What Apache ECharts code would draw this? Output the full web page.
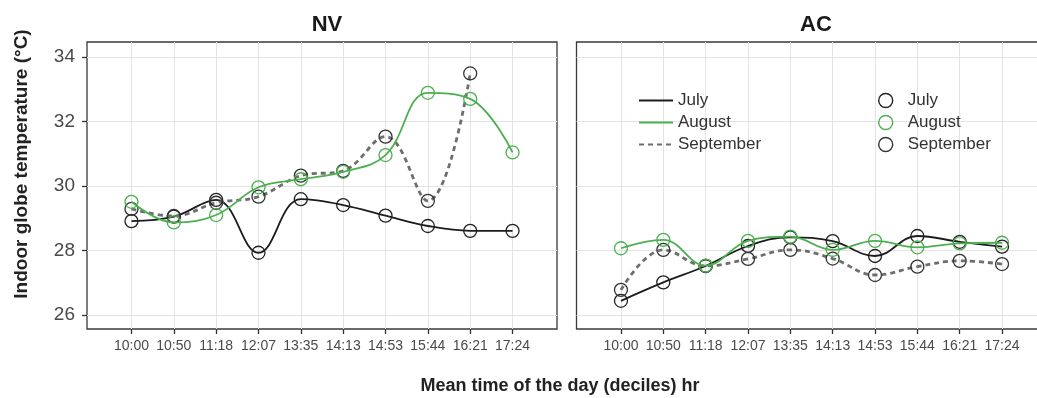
<!DOCTYPE html>
<html>
<head>
<meta charset="utf-8">
<script src="https://cdn.jsdelivr.net/npm/echarts@6/dist/echarts.min.js"></script>
<style>
  html, body { margin: 0; padding: 0; background: #fff; overflow: hidden; }
  #chart { width: 1060px; height: 398px; }
</style>
</head>
<body>
<div id="chart"></div>
<script>
// ---- Data ----
const categories = ['10:00', '10:50', '11:18', '12:07', '13:35', '14:13', '14:53', '15:44', '16:21', '17:24'];
const yTicks = [26, 28, 30, 32, 34];
const months = ['July', 'August', 'September'];

// NV panel
const nvJuly      = [28.91, 29.05, 29.57, 27.93, 29.59, 29.41, 29.08, 28.76, 28.61, 28.61];
const nvAugust    = [29.51, 28.87, 29.10, 29.96, 30.21, 30.44, 30.96, 32.89, 32.70, 31.04];
const nvSeptember = [29.29, 29.07, 29.48, 29.67, 30.32, 30.47, 31.53, 29.54, 33.49, null];

// AC panel
const acJuly      = [26.44, 27.01, 27.52, 28.14, 28.41, 28.29, 27.83, 28.45, 28.27, 28.12];
const acAugust    = [28.07, 28.33, 27.53, 28.30, 28.43, 28.02, 28.30, 28.10, 28.22, 28.24];
const acSeptember = [26.78, 28.02, 27.52, 27.74, 28.02, 27.75, 27.24, 27.50, 27.68, 27.58];

// ---- Styles ----
const lineColors = { July: '#1c1c1c', August: '#4caf50', September: '#6e6e6e' };
const markColors = { July: '#222222', August: '#4caf50', September: '#333333' };
const lineWidths = { July: 1.8, August: 1.8, September: 2.8 };
const lineTypes  = { July: 'solid', August: 'solid', September: [5, 4] };

const tickIdx = categories.map((_, i) => i);
const gridColor = '#e3e3e3';
const frameColor = '#3a3a3a';
const FONT = '"Liberation Sans", Arial, sans-serif';

function toPairs(arr) {
  const out = [];
  arr.forEach((v, i) => { if (v !== null && v !== undefined) out.push([i, v]); });
  return out;
}

function makeSeries(name, values, idx) {
  return {
    name: name,
    type: 'line',
    xAxisIndex: idx,
    yAxisIndex: idx,
    data: toPairs(values),
    smooth: 0.4,
    symbol: 'circle',
    symbolSize: 13,
    lineStyle: { color: lineColors[name], width: lineWidths[name], type: lineTypes[name] },
    itemStyle: { color: 'rgba(0,0,0,0)', borderColor: markColors[name], borderWidth: 1.3 },
    emphasis: { disabled: true },
    z: name === 'August' ? 3 : 2
  };
}

function xAxis(idx) {
  return {
    type: 'value',
    gridIndex: idx,
    min: -1.05,
    max: 10.05,
    axisLine: { show: false, onZero: false },
    axisTick: { show: true, inside: false, length: 5, customValues: tickIdx, lineStyle: { color: '#333', width: 1.3 } },
    axisLabel: {
      customValues: tickIdx,
      formatter: v => categories[Math.round(v)] || '',
      color: '#4a4a4a',
      fontFamily: FONT,
      fontSize: 14,
      margin: 10
    },
    splitLine: { show: true, lineStyle: { color: gridColor, width: 1 } }
  };
}

function yAxis(idx, showLabels) {
  return {
    type: 'value',
    gridIndex: idx,
    min: 25.566,
    max: 34.465,
    axisLine: { show: false, onZero: false },
    axisTick: { show: showLabels, length: 5, customValues: yTicks, lineStyle: { color: '#333', width: 1.3 } },
    axisLabel: {
      show: showLabels,
      customValues: yTicks,
      color: '#4a4a4a',
      fontFamily: FONT,
      fontSize: 19,
      margin: 12
    },
    splitLine: { show: true, lineStyle: { color: gridColor, width: 1 } }
  };
}

const series = [];
[[nvJuly, nvAugust, nvSeptember], [acJuly, acAugust, acSeptember]].forEach((set, idx) => {
  months.forEach((m, k) => series.push(makeSeries(m, set[k], idx)));
});

const legendText = { color: '#333', fontSize: 17, fontFamily: FONT };

const option = {
  animation: false,
  backgroundColor: '#ffffff',
  title: [
    { text: 'NV', left: 322, top: 9, textAlign: 'center',
      textStyle: { fontSize: 22, fontWeight: 'bold', color: '#1a1a1a', fontFamily: FONT } },
    { text: 'AC', left: 811, top: 9, textAlign: 'center',
      textStyle: { fontSize: 22, fontWeight: 'bold', color: '#1a1a1a', fontFamily: FONT } },
    { text: 'Mean time of the day (deciles) hr', left: 555, top: 372, textAlign: 'center',
      textStyle: { fontSize: 18, fontWeight: 'bold', color: '#222', fontFamily: FONT } }
  ],
  graphic: [
    { type: 'text', x: 22, y: 164, rotation: Math.PI / 2,
      style: { text: 'Indoor globe temperature (°C)', textAlign: 'center', textVerticalAlign: 'middle',
        font: 'bold 19px "Liberation Sans", Arial, sans-serif', fill: '#222' } }
  ],
  legend: [
    {
      orient: 'vertical', left: 633, top: 87, itemGap: 5,
      itemWidth: 34, itemHeight: 14,
      data: months,
      itemStyle: { color: 'rgba(0,0,0,0)', borderColor: 'rgba(0,0,0,0)', borderWidth: 0 },
      textStyle: legendText,
      selectedMode: false
    },
    {
      orient: 'vertical', left: 873, top: 87, itemGap: 5,
      itemWidth: 34, itemHeight: 14,
      data: months.map(m => ({ name: m, icon: 'circle' })),
      itemStyle: { color: 'rgba(0,0,0,0)', borderColor: 'inherit', borderWidth: 1.4 },
      textStyle: legendText,
      selectedMode: false
    }
  ],
  grid: [
    { left: 87, top: 42, width: 470, height: 287, show: true, borderColor: frameColor, borderWidth: 1.3,
      backgroundColor: 'transparent', outerBoundsMode: 'none', containLabel: false },
    { left: 576.5, top: 42, width: 470, height: 287, show: true, borderColor: frameColor, borderWidth: 1.3,
      backgroundColor: 'transparent', outerBoundsMode: 'none', containLabel: false }
  ],
  xAxis: [xAxis(0), xAxis(1)],
  yAxis: [yAxis(0, true), yAxis(1, false)],
  series: series
};

const chart = echarts.init(document.getElementById('chart'), null, { renderer: 'canvas' });
chart.setOption(option);
</script>
</body>
</html>
